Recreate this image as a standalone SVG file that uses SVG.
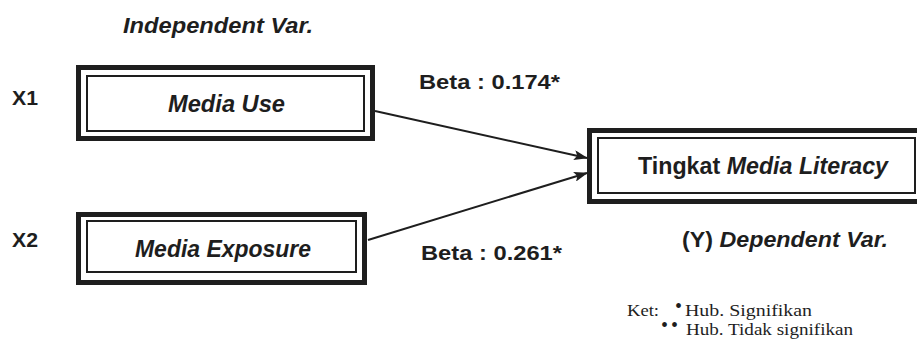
<svg xmlns="http://www.w3.org/2000/svg" width="917" height="340" viewBox="0 0 917 340">
<style>
.lbl{font-family:"Liberation Sans",Arial,sans-serif;font-weight:bold;fill:#1e1e1e}
.it{font-style:italic}
.outer{fill:#fff;stroke:#1e1e1e;stroke-width:5}
.inner{fill:none;stroke:#1e1e1e;stroke-width:2}
.edge{stroke:#1e1e1e;stroke-width:2;fill:none}
.note{font-family:"Liberation Serif","Times New Roman",serif;font-size:16px;fill:#1e1e1e}
.bul{font-family:"Liberation Serif","Times New Roman",serif;font-size:20px;fill:#1e1e1e}
</style>
<defs>
<marker id="ah" viewBox="0 0 14 10" refX="13" refY="5" markerWidth="14" markerHeight="10" markerUnits="userSpaceOnUse" orient="auto">
<path d="M0,0 L14,5 L0,10 L3,5 Z" fill="#1e1e1e"/>
</marker>
</defs>
<rect width="917" height="340" fill="#fff"/>
<text class="lbl it" x="123" y="33" font-size="22" textLength="190" lengthAdjust="spacingAndGlyphs">Independent Var.</text>
<text class="lbl" x="12" y="105" font-size="21" textLength="26" lengthAdjust="spacingAndGlyphs">X1</text>
<text class="lbl" x="12" y="247" font-size="21" textLength="26" lengthAdjust="spacingAndGlyphs">X2</text>
<g id="connectors">
<line class="edge" x1="375" y1="111" x2="587" y2="158" marker-end="url(#ah)"/>
<line class="edge" x1="368" y1="240" x2="587" y2="173" marker-end="url(#ah)"/>
</g>
<g id="media-use">
<rect class="outer" x="78.5" y="67.5" width="294" height="71"/>
<rect class="inner" x="87" y="76" width="277" height="55"/>
<text class="lbl it" x="168" y="112" font-size="23" textLength="117" lengthAdjust="spacingAndGlyphs">Media Use</text>
</g>
<g id="media-exposure">
<rect class="outer" x="78.5" y="214.5" width="286" height="68"/>
<rect class="inner" x="87" y="221" width="269" height="51"/>
<text class="lbl it" x="135" y="257" font-size="23" textLength="176" lengthAdjust="spacingAndGlyphs">Media Exposure</text>
</g>
<g id="media-literacy">
<rect class="outer" x="589.5" y="130.5" width="332" height="71"/>
<rect class="inner" x="598" y="138" width="317" height="55"/>
<text class="lbl" x="638" y="174" font-size="23" textLength="250" lengthAdjust="spacingAndGlyphs">Tingkat <tspan class="it">Media Literacy</tspan></text>
</g>
<text class="lbl" x="419" y="89" font-size="21" textLength="141" lengthAdjust="spacingAndGlyphs">Beta : 0.174*</text>
<text class="lbl" x="421" y="260" font-size="21" textLength="141" lengthAdjust="spacingAndGlyphs">Beta : 0.261*</text>
<text class="lbl" x="682" y="247" font-size="22" textLength="206" lengthAdjust="spacingAndGlyphs">(Y) <tspan class="it">Dependent Var.</tspan></text>
<text class="note" x="627" y="316" textLength="32" lengthAdjust="spacingAndGlyphs">Ket:</text>
<text class="bul" x="675" y="313">•</text>
<text class="note" x="685" y="316" textLength="127" lengthAdjust="spacingAndGlyphs">Hub. Signifikan</text>
<text class="bul" x="661" y="332" textLength="17" lengthAdjust="spacing">••</text>
<text class="note" x="686" y="335" textLength="167" lengthAdjust="spacingAndGlyphs">Hub. Tidak signifikan</text>
</svg>
